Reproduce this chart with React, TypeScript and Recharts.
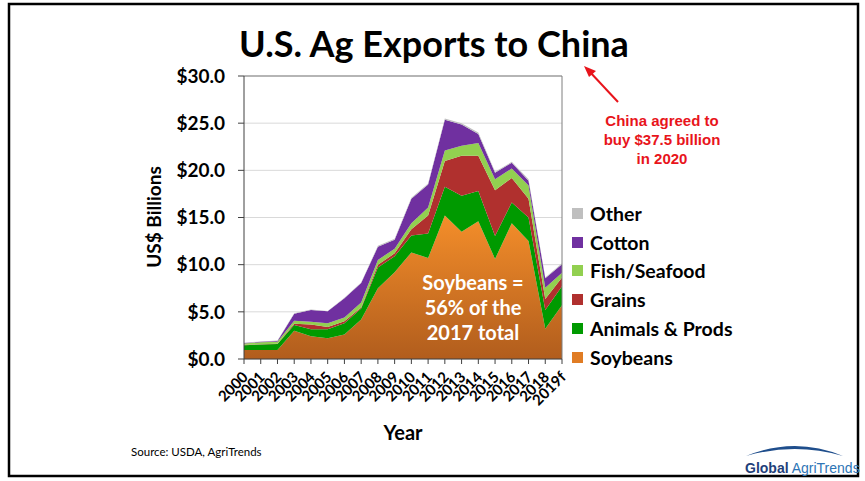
import { AreaChart, Area, XAxis, YAxis, CartesianGrid, ReferenceLine } from "recharts";

const years = ["2000", "2001", "2002", "2003", "2004", "2005", "2006", "2007", "2008", "2009", "2010", "2011", "2012", "2013", "2014", "2015", "2016", "2017", "2018", "2019f"];
const soybeans = [0.95, 0.95, 0.95, 3.0, 2.4, 2.2, 2.6, 4.2, 7.5, 9.2, 11.3, 10.7, 15.2, 13.5, 14.6, 10.6, 14.4, 12.5, 3.2, 5.7];
const animals = [0.5, 0.6, 0.65, 0.6, 0.75, 0.95, 1.2, 1.15, 2.2, 1.7, 1.8, 2.6, 3.05, 3.8, 3.2, 2.45, 2.2, 2.5, 2.0, 2.0];
const grains = [0.05, 0.02, 0.02, 0.15, 0.5, 0.25, 0.2, 0.1, 0.3, 0.3, 0.65, 1.9, 2.75, 4.25, 3.75, 4.85, 2.6, 2.0, 1.15, 0.95];
const fish = [0.15, 0.2, 0.2, 0.3, 0.3, 0.4, 0.4, 0.55, 0.5, 0.5, 0.65, 0.85, 1.1, 1.05, 1.35, 1.15, 1.0, 1.4, 1.2, 0.5];
const cotton = [0.05, 0.05, 0.1, 0.75, 1.25, 1.25, 2.05, 2.05, 1.4, 0.95, 2.6, 2.45, 3.25, 2.25, 0.95, 0.7, 0.6, 0.5, 1.0, 0.9];
const other = [0.03, 0.03, 0.03, 0.05, 0.05, 0.05, 0.05, 0.05, 0.1, 0.1, 0.1, 0.1, 0.15, 0.15, 0.15, 0.1, 0.1, 0.15, 0.1, 0.1];
const yTicks = [0, 5, 10, 15, 20, 25, 30];

// bottom to top stacking order
const series = [
  { key: "soybeans", name: "Soybeans", color: "url(#soyFill)", swatch: "#E07C24", values: soybeans },
  { key: "animals", name: "Animals & Prods", color: "#009A00", swatch: "#009A00", values: animals },
  { key: "grains", name: "Grains", color: "#B0302E", swatch: "#B0302E", values: grains },
  { key: "fish", name: "Fish/Seafood", color: "#92D050", swatch: "#92D050", values: fish },
  { key: "cotton", name: "Cotton", color: "#7030A0", swatch: "#7030A0", values: cotton },
  { key: "other", name: "Other", color: "#BFBFBF", swatch: "#BFBFBF", values: other },
];

const data = years.map((year, i) => {
  const row: { [key: string]: string | number } = { year };
  series.forEach((s) => {
    row[s.key] = s.values[i];
  });
  return row;
});

const FONT = "Lato, 'Open Sans', sans-serif";

const YearTick = (props: any) => {
  const { x, y, payload } = props;
  return (
    <text
      x={x + 5}
      y={y + 12}
      transform={`rotate(-45 ${x + 5} ${y + 12})`}
      textAnchor="end"
      fontFamily={FONT}
      fontWeight="bold"
      fontSize={15}
      fill="#000"
    >
      {payload.value}
    </text>
  );
};

export default function App() {
  const legendItems = [...series].reverse();
  return (
    <div style={{ position: "absolute", left: 0, top: 0, width: 865, height: 481, background: "#fff", fontFamily: FONT }}>
      <AreaChart
        width={865}
        height={481}
        data={data}
        margin={{ top: 76, right: 303, left: 164, bottom: 62 }}
      >
        <defs>
          <linearGradient id="soyFill" x1="0" y1="0" x2="0" y2="1">
            <stop offset="0%" stopColor="#F48E2A" />
            <stop offset="100%" stopColor="#B15D1D" />
          </linearGradient>
        </defs>
        <CartesianGrid vertical={false} stroke="#D9D9D9" />
        <XAxis
          dataKey="year"
          height={60}
          interval={0}
          tick={<YearTick />}
          tickLine={{ stroke: "#404040" }}
          tickSize={5}
          axisLine={{ stroke: "#404040" }}
        />
        <YAxis
          width={80}
          domain={[0, 30]}
          ticks={yTicks}
          tickFormatter={(v: number) => `$${v.toFixed(1)}`}
          tick={{ fontFamily: FONT, fontWeight: "bold", fontSize: 19, fill: "#000" }}
          tickLine={{ stroke: "#404040" }}
          tickSize={6}
          tickMargin={13}
          axisLine={{ stroke: "#404040" }}
        />
        {series.map((s) => (
          <Area
            key={s.key}
            dataKey={s.key}
            name={s.name}
            stackId="a"
            type="linear"
            fill={s.color}
            fillOpacity={1}
            stroke="none"
            isAnimationActive={false}
          />
        ))}
        <ReferenceLine y={30} stroke="#7F7F7F" />
        <ReferenceLine x="2019f" stroke="#7F7F7F" />
      </AreaChart>

      {/* legend */}
      <div style={{ position: "absolute", left: 572, top: 199 }}>
        {legendItems.map((s) => (
          <div key={s.key} style={{ display: "flex", alignItems: "center", height: 28.8 }}>
            <div style={{ width: 11, height: 11, background: s.swatch, marginRight: 7 }} />
            <span style={{ fontWeight: "bold", fontSize: 19.5, color: "#000" }}>{s.name}</span>
          </div>
        ))}
      </div>

      <svg width={865} height={481} style={{ position: "absolute", left: 0, top: 0, pointerEvents: "none" }}>
        <rect x={9} y={4} width={849} height={472} fill="none" stroke="#000" strokeWidth={2.5} />
        <text x={434} y={57} textAnchor="middle" fontFamily={FONT} fontWeight="bold" fontSize={36} fill="#000">
          U.S. Ag Exports to China
        </text>
        <text
          x={161}
          y={217}
          transform="rotate(-90 161 217)"
          textAnchor="middle"
          fontFamily={FONT}
          fontWeight="bold"
          fontSize={19}
          fill="#000"
        >
          US$ Billions
        </text>
        <text x={403} y={440} textAnchor="middle" fontFamily={FONT} fontWeight="bold" fontSize={20} fill="#000">
          Year
        </text>
        <g fontFamily={FONT} fontWeight="bold" fontSize={20} fill="#fff" textAnchor="middle">
          <text x={473} y={290}>Soybeans =</text>
          <text x={473} y={315}>56% of the</text>
          <text x={473} y={340}>2017 total</text>
        </g>
        <g fontFamily="'Liberation Sans', Arial, sans-serif" fontWeight="bold" fontSize={15} fill="#E8141B" textAnchor="middle">
          <text x={662} y={126}>China agreed to</text>
          <text x={662} y={145}>buy $37.5 billion</text>
          <text x={662} y={164}>in 2020</text>
        </g>
        <line x1={618} y1={102} x2={589} y2={71} stroke="#E8141B" strokeWidth={2} />
        <polygon points="584,66 596,71 589,77" fill="#E8141B" />
        <text x={131} y={456} fontFamily={FONT} fontSize={11.5} fill="#000">
          Source:  USDA, AgriTrends
        </text>
        <path d="M746,456 Q795,436 843,456 Q795,442 746,456 Z" fill="#1F4E8C" />
        <text x={745} y={473} fontFamily="'Liberation Sans', Arial, sans-serif" fontSize={14} fill="#1F3F7A">
          <tspan fontWeight="bold">Global</tspan>
          <tspan fill="#2E75B6"> AgriTrends</tspan>
        </text>
      </svg>
    </div>
  );
}
